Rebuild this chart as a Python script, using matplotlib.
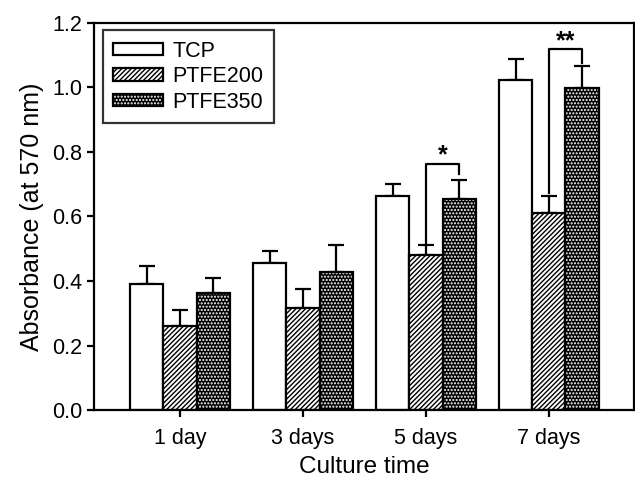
import matplotlib
matplotlib.use("Agg")
import matplotlib.pyplot as plt
import numpy as np
from matplotlib.patches import Patch

categories = ["1 day", "3 days", "5 days", "7 days"]
series = ["TCP", "PTFE200", "PTFE350"]
tcp = [0.39, 0.456, 0.663, 1.022]
tcp_err = [0.056, 0.037, 0.036, 0.065]
p200 = [0.26, 0.315, 0.48, 0.61]
p200_err = [0.05, 0.06, 0.03, 0.052]
p350 = [0.362, 0.427, 0.653, 0.997]
p350_err = [0.048, 0.085, 0.058, 0.067]

plt.rcParams['font.family'] = ['Liberation Sans', 'DejaVu Sans']
plt.rcParams['hatch.linewidth'] = 1.0

fig = plt.figure(figsize=(6.35, 4.9), dpi=100)
ax = fig.add_axes([0.148, 0.163, 0.850, 0.791])

x = np.arange(1, len(categories) + 1)
w = 0.27
lw = 1.6
ekw = dict(elinewidth=1.6, capthick=1.6, ecolor='black')

# TCP
ax.bar(x - w, tcp, w, color='white', edgecolor='black', linewidth=lw, zorder=2)
ax.errorbar(x - w, tcp, yerr=[np.zeros(4), tcp_err], fmt='none', capsize=5.5, zorder=1, **ekw)
# PTFE200
ax.bar(x, p200, w, color='white', edgecolor='black', hatch='///////', linewidth=lw, zorder=2)
ax.errorbar(x, p200, yerr=[np.zeros(4), p200_err], fmt='none', capsize=5.5, zorder=1, **ekw)
# PTFE350 : black with white dots
ax.bar(x + w, p350, w, color='black', edgecolor='white', hatch='.....', linewidth=0, zorder=2)
ax.bar(x + w, p350, w, color='none', edgecolor='black', linewidth=lw, zorder=3)
ax.errorbar(x + w, p350, yerr=[np.zeros(4), p350_err], fmt='none', capsize=5.5, zorder=1, **ekw)

# significance brackets
def bracket(i, y_top, yl, yr, label):
    xl = x[i]
    xr = x[i] + w
    ax.plot([xl, xl, xr, xr], [yl, y_top, y_top, yr], color='black', lw=1.6, zorder=4)
    ax.text((xl + xr) / 2, y_top - 0.012, label, ha='center', va='bottom', fontsize=18,
            fontweight='bold')

bracket(2, 0.763, p200[2] + p200_err[2] + 0.005, 0.731, "*")
bracket(3, 1.117, p200[3] + p200_err[3] + 0.01, 1.075, "**")

ax.set_xlim(0.30, 4.69)
ax.set_ylim(0, 1.2)
ax.set_xticks(x)
ax.set_xticklabels(categories)
ax.set_yticks(np.arange(0, 1.21, 0.2))
ax.set_yticklabels([f"{v:.1f}" for v in np.arange(0, 1.21, 0.2)])
ax.tick_params(axis='both', labelsize=15.5, width=1.6, length=5, direction='out')
ax.tick_params(axis='x', pad=8)
for s in ax.spines.values():
    s.set_linewidth(1.6)

ax.set_xlabel("Culture time", fontsize=17.5, labelpad=5)
ax.set_ylabel("Absorbance (at 570 nm)", fontsize=18, labelpad=6)

h1 = Patch(facecolor='white', edgecolor='black', linewidth=1.6)
h2 = Patch(facecolor='white', edgecolor='black', hatch='///////', linewidth=1.6)
h3a = Patch(facecolor='black', edgecolor='white', hatch='.....', linewidth=0)
h3b = Patch(facecolor='none', edgecolor='black', linewidth=1.6)
leg = ax.legend([h1, h2, (h3a, h3b)], series, loc='upper left', bbox_to_anchor=(-0.004, 1.008),
                fontsize=15.5, frameon=True, fancybox=False, edgecolor='black',
                handlelength=2.3, handleheight=0.5, handletextpad=0.45, borderpad=0.5,
                labelspacing=0.2)
leg.get_frame().set_linewidth(1.6)

fig.savefig("out.png", dpi=100)
